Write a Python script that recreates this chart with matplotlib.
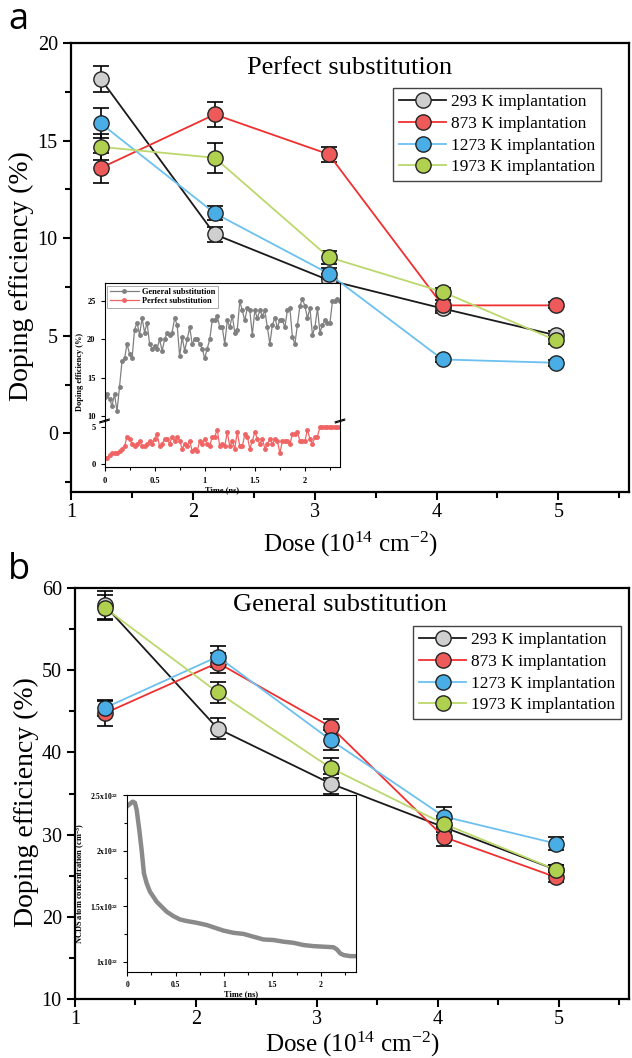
import numpy as np
import matplotlib
matplotlib.use("Agg")
import matplotlib.pyplot as plt
from matplotlib.ticker import MultipleLocator

plt.rcParams['font.family'] = ['Liberation Serif', 'DejaVu Serif']
plt.rcParams['mathtext.fontset'] = 'custom'
plt.rcParams['mathtext.rm'] = 'Liberation Serif'
plt.rcParams['mathtext.default'] = 'regular'

# ── data ──────────────────────────────────────────────────────────────────────
dose = [1.245, 2.18, 3.115, 4.05, 4.98]
labels = ["293 K implantation", "873 K implantation",
          "1273 K implantation", "1973 K implantation"]

# panel a: perfect substitution
perf_293 = [18.15, 10.2, 7.85, 6.4, 5.03]
perf_293_err = [0.65, 0.4, 0.3, 0.25, 0.2]
perf_873 = [13.6, 16.34, 14.3, 6.56, 6.56]
perf_873_err = [0.75, 0.65, 0.38, 0.3, 0.15]
perf_1273 = [15.88, 11.28, 8.19, 3.79, 3.62]
perf_1273_err = [0.77, 0.36, 0.3, 0.15, 0.15]
perf_1973 = [14.68, 14.12, 9.03, 7.25, 4.77]
perf_1973_err = [0.68, 0.78, 0.33, 0.2, 0.2]

# panel b: general substitution
gen_293 = [57.9, 42.9, 36.2, 30.9, 25.7]
gen_293_err = [1.7, 1.3, 1.2, 1.0, 0.6]
gen_873 = [44.75, 50.9, 43.1, 29.7, 24.8]
gen_873_err = [1.5, 1.2, 1.0, 1.1, 0.6]
gen_1273 = [45.4, 51.65, 41.5, 32.2, 28.9]
gen_1273_err = [1.0, 1.3, 1.25, 1.1, 0.77]
gen_1973 = [57.6, 47.3, 38.1, 31.3, 25.7]
gen_1973_err = [1.5, 1.25, 1.2, 1.0, 0.6]

# inset a: doping efficiency vs time
inset_general = [12.5, 12.8, 12.2, 11.3, 12.8, 10.6, 13.8, 17.2, 17.5, 19.4,
                 18.1, 17.5, 21.3, 22.2, 20.6, 22.8, 20.9, 22.2, 19.4, 18.8,
                 19.1, 18.8, 20.0, 18.5, 20.0, 20.9, 20.6, 20.9, 22.8, 21.9,
                 17.8, 20.3, 18.5, 20.0, 21.6, 19.4, 20.0, 20.0, 19.4, 18.8,
                 17.5, 18.8, 20.0, 22.5, 22.5, 23.1, 21.6, 21.6, 19.4, 22.5,
                 21.6, 23.1, 20.9, 21.3, 25.0, 23.8, 22.5, 24.1, 23.8, 20.6,
                 23.8, 22.8, 23.8, 23.1, 23.8, 21.6, 19.4, 21.9, 22.8, 21.6,
                 22.5, 22.5, 21.6, 23.8, 24.1, 20.3, 19.4, 21.9, 24.4, 25.3,
                 24.4, 22.8, 24.1, 20.6, 21.6, 24.1, 20.9, 21.9, 22.5, 22.2,
                 22.2, 25.0, 25.0, 25.3, 25.0]
inset_perfect = [0.9, 0.9, 1.2, 1.5, 1.5, 1.5, 1.8, 2.1, 2.4, 3.7,
                 3.4, 2.7, 2.4, 2.7, 3.1, 2.4, 2.4, 2.7, 3.1, 2.7,
                 3.4, 4.0, 2.4, 2.7, 3.4, 3.4, 2.7, 3.7, 3.1, 3.7,
                 3.1, 2.1, 2.7, 2.4, 3.1, 1.8, 2.1, 1.8, 3.1, 2.7,
                 3.4, 2.7, 2.4, 3.7, 3.7, 4.6, 2.4, 2.7, 2.4, 4.3,
                 2.4, 3.1, 2.1, 4.3, 2.4, 2.4, 4.0, 3.7, 2.1, 3.1,
                 4.3, 3.4, 2.7, 3.4, 2.1, 2.7, 3.4, 2.7, 3.4, 3.1,
                 1.5, 3.1, 3.1, 3.1, 2.7, 4.0, 4.0, 4.3, 3.1, 3.1,
                 3.1, 4.6, 3.4, 2.7, 3.7, 3.7, 5.0, 5.0, 5.0, 5.0,
                 5.0, 5.0, 5.0, 5.0, 5.0]
T_END = 2.35

# inset b: NCDS atom concentration (1e22 cm^-3) vs time
ncds_t = [0.0, 0.028, 0.055, 0.079, 0.097, 0.124, 0.148, 0.172, 0.2, 0.234,
          0.269, 0.303, 0.355, 0.407, 0.476, 0.545, 0.614, 0.717, 0.821, 0.924,
          0.993, 1.097, 1.2, 1.303, 1.407, 1.51, 1.614, 1.717, 1.82, 1.924,
          2.028, 2.131, 2.166, 2.2, 2.234, 2.303, 2.36]
ncds_c = [2.40, 2.42, 2.44, 2.43, 2.365, 2.185, 2.005, 1.795, 1.705, 1.63,
          1.585, 1.54, 1.495, 1.45, 1.41, 1.38, 1.366, 1.35, 1.33, 1.30,
          1.28, 1.26, 1.25, 1.225, 1.20, 1.195, 1.18, 1.17, 1.15, 1.14,
          1.135, 1.13, 1.11, 1.075, 1.06, 1.05, 1.05]

# ── styling ───────────────────────────────────────────────────────────────────
line_cols = ["#1a1a1a", "#f03030", "#6cc0f0", "#bcd86c"]
face_cols = ["#cfcfcf", "#ee5a5a", "#4aaee6", "#b0d050"]
W, H = 632, 1058


def fx(px):
    return px / W


def fy(py):
    return 1 - py / H


def main_panel(ax, series, errs, ylim, yticks, title, title_xy, leg_xy, xlab_y):
    for i in range(4):
        ax.errorbar(dose, series[i], yerr=errs[i], fmt="none", ecolor="black",
                    elinewidth=1.2, capsize=6, capthick=1.2, zorder=2)
    for i in range(4):
        ax.plot(dose, series[i], "-o", color=line_cols[i], lw=1.3,
                markersize=11, markerfacecolor=face_cols[i],
                markeredgecolor="#222222", markeredgewidth=1.0,
                label=labels[i], zorder=3 + i * 0.1)
    ax.set_xlim(1, 5.58)
    ax.set_ylim(*ylim)
    ax.set_xticks([1, 2, 3, 4, 5])
    ax.xaxis.set_minor_locator(MultipleLocator(0.5))
    ax.set_yticks(yticks)
    ax.yaxis.set_minor_locator(MultipleLocator((yticks[1] - yticks[0]) / 2))
    ax.tick_params(which="major", direction="out", length=6, width=1.5,
                   labelsize=14.5)
    ax.tick_params(axis="x", which="major", pad=2)
    ax.tick_params(which="minor", direction="out", length=4, width=1.5)
    for sp in ax.spines.values():
        sp.set_linewidth(1.6)
    xl = ax.set_xlabel("Dose (10$^{14}$ cm$^{-2}$)", fontsize=18)
    xl.set_va("center")
    ax.xaxis.set_label_coords(0.5, xlab_y)
    yl = ax.set_ylabel("Doping efficiency (%)", fontsize=20)
    yl.set_va("center")
    ax.yaxis.set_label_coords(-0.088, 0.48)
    ax.text(title_xy[0], title_xy[1], title, transform=ax.transAxes,
            ha="center", va="center", fontsize=19)
    leg = ax.legend(loc="upper left", bbox_to_anchor=leg_xy,
                    bbox_transform=ax.figure.transFigure, fontsize=12.5,
                    handlelength=2.7, handletextpad=0.3, borderpad=0.35,
                    labelspacing=0.32, fancybox=False, framealpha=1,
                    edgecolor="#444444", borderaxespad=0)
    leg.get_frame().set_linewidth(1.0)


fig = plt.figure(figsize=(6.32, 10.58), dpi=100)

# ── panel a ───────────────────────────────────────────────────────────────────
ax_a = fig.add_axes([fx(71), fy(492), fx(629) - fx(71), fy(43) - fy(492)])
main_panel(ax_a,
           [perf_293, perf_873, perf_1273, perf_1973],
           [perf_293_err, perf_873_err, perf_1273_err, perf_1973_err],
           (-3, 20), [0, 5, 10, 15, 20], "Perfect substitution",
           (0.5, 0.944), (fx(393), fy(88)), (492 - 544) / 449)

# ── panel b ───────────────────────────────────────────────────────────────────
ax_b = fig.add_axes([fx(75), fy(999), fx(629) - fx(75), fy(588) - fy(999)])
main_panel(ax_b,
           [gen_293, gen_873, gen_1273, gen_1973],
           [gen_293_err, gen_873_err, gen_1273_err, gen_1973_err],
           (10, 60), [10, 20, 30, 40, 50, 60], "General substitution",
           (0.478, 0.959), (fx(413), fy(626)), (999 - 1044) / 411)

fig.text(fx(8), fy(20), "a", fontsize=26, family="Open Sans",
         ha="left", va="center")
fig.text(fx(8), fy(570), "b", fontsize=26, family="Open Sans",
         ha="left", va="center")

# ── inset a (broken y axis) ───────────────────────────────────────────────────
small = dict(fontsize=6, fontweight="bold")
t_gen = np.linspace(0, T_END, len(inset_general))
t_perf = np.linspace(0, T_END, len(inset_perfect))

ia_left, ia_right = fx(104.5), fx(340)
ia_up = fig.add_axes([ia_left, fy(421), ia_right - ia_left, fy(283) - fy(421)])
ia_lo = fig.add_axes([ia_left, fy(467.5), ia_right - ia_left, fy(421) - fy(467.5)])
for a in (ia_up, ia_lo):
    a.plot(t_gen, inset_general, "-o", color="#808080", lw=0.9, markersize=2.5)
    a.plot(t_perf, inset_perfect, "-o", color="#f06464", lw=0.9, markersize=2.5)
    a.set_xlim(0, T_END)
    a.tick_params(which="both", direction="out", width=0.8, labelsize=6)
    a.tick_params(which="major", length=3)
    a.tick_params(which="minor", length=2)
    for sp in a.spines.values():
        sp.set_linewidth(0.8)
ia_up.set_ylim(9.3, 27.4)
ia_up.set_yticks([10, 15, 20, 25])
ia_lo.set_ylim(-0.4, 5.75)
ia_lo.set_yticks([0, 5])
ia_up.spines["bottom"].set_visible(False)
ia_lo.spines["top"].set_visible(False)
ia_up.tick_params(axis="x", which="both", bottom=False, labelbottom=False)
ia_lo.set_xticks([0, 0.5, 1, 1.5, 2])
ia_lo.set_xticklabels(["0", "0.5", "1", "1.5", "2"])
ia_lo.xaxis.set_minor_locator(MultipleLocator(0.25))
for lab in ia_lo.get_xticklabels() + ia_lo.get_yticklabels() + ia_up.get_yticklabels():
    lab.set_fontweight("bold")
ia_lo.set_xlabel("Time (ns)", labelpad=1, **small)
fig.text(fx(80), fy(372), "Doping efficiency (%)", rotation=90,
         ha="center", va="center", **small)
# break marks
for xb in (0, 1):
    for dy in (-0.012, 0.012):
        ia_lo.plot([xb - 0.02, xb + 0.02], [1.0 + dy - 0.03, 1.0 + dy + 0.03],
                   transform=ia_lo.transAxes, color="black", lw=0.8,
                   clip_on=False)
leg_i = ia_up.legend(["General substitution", "Perfect substitution"],
                     loc="upper left", prop=dict(weight="bold", size=6),
                     handlelength=3.5, handletextpad=0.4, borderpad=0.3,
                     labelspacing=0.15, fancybox=False, edgecolor="#aaaaaa",
                     framealpha=1, borderaxespad=0.3)
leg_i.get_frame().set_linewidth(0.7)

# ── inset b ───────────────────────────────────────────────────────────────────
ib = fig.add_axes([fx(127.3), fy(971.7), fx(355.7) - fx(127.3), fy(795) - fy(971.7)])
ib.plot(ncds_t, np.array(ncds_c) * 1e22, color="#8a8a8a", lw=3.2)
ib.set_xlim(0, 2.36)
ib.set_ylim(0.91e22, 2.5e22)
ib.set_xticks([0, 0.5, 1, 1.5, 2])
ib.set_xticklabels(["0", "0.5", "1", "1.5", "2"])
ib.xaxis.set_minor_locator(MultipleLocator(0.25))
ib.set_yticks([1e22, 1.5e22, 2e22, 2.5e22])
ib.set_yticklabels(["1x10$^{22}$", "1.5x10$^{22}$", "2x10$^{22}$", "2.5x10$^{22}$"])
ib.yaxis.set_minor_locator(MultipleLocator(0.25e22))
ib.tick_params(which="both", direction="out", width=0.8, labelsize=5.5)
ib.tick_params(which="major", length=3)
ib.tick_params(which="minor", length=2)
for lab in ib.get_xticklabels() + ib.get_yticklabels():
    lab.set_fontweight("bold")
for sp in ib.spines.values():
    sp.set_linewidth(0.8)
ib.set_xlabel("Time (ns)", labelpad=1, **small)
ib.set_ylabel("NCDS atom concentration (cm$^{-3}$)", labelpad=2, **small)

fig.savefig("out.png", dpi=100)
